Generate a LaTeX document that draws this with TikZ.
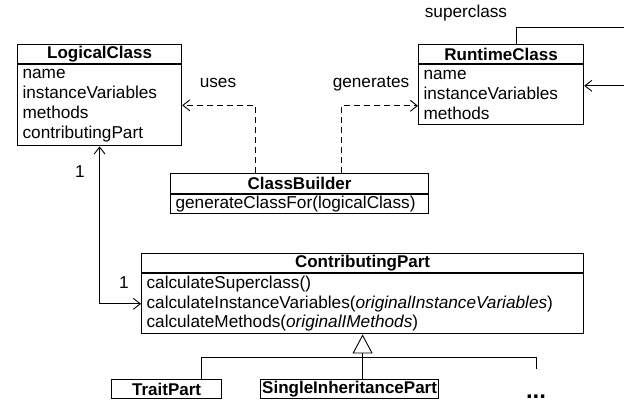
\documentclass[tikz,border=0pt]{standalone}
\usepackage{fontspec}
\setmainfont{Liberation Sans}
\usetikzlibrary{arrows.meta}
\begin{document}
\begin{tikzpicture}[x=1pt,y=-1pt,
  every node/.style={font=\fontsize{17.2}{20}\selectfont, inner sep=0pt},
  hdr/.style={draw, line width=1.2pt, anchor=north west, minimum height=19pt, font=\fontsize{17}{20}\selectfont\bfseries},
  body/.style={draw, line width=1.2pt, anchor=north west, align=left, inner xsep=5pt, inner ysep=0pt},
  assoc/.style={line width=0.9pt},
  dep/.style={line width=0.9pt, dash pattern=on 6pt off 4pt},
  barb/.style={-{Straight Barb[length=7pt,width=11pt,line width=0.9pt]}},
  lbl/.style={font=\fontsize{17.2}{20}\selectfont}
]
\useasboundingbox (0,0) rectangle (624,402);
\clip (0,0) rectangle (624,402);
% LogicalClass
\node[hdr, minimum width=164pt] (lch) at (17,44) {LogicalClass};
\node[body, minimum height=81pt, text width=154pt] (lcb) at (lch.south west) {name\\instanceVariables\\methods\\contributingPart};
% RuntimeClass
\node[hdr, minimum width=165pt] (rch) at (418,44) {RuntimeClass};
\node[body, minimum height=60pt, text width=155pt] (rcb) at (rch.south west) {name\\instanceVariables\\methods};
% ClassBuilder
\node[hdr, minimum width=258pt, minimum height=20pt] (cbh) at (170,173) {ClassBuilder};
\node[body, minimum height=19pt, text width=248pt] (cbb) at (cbh.south west) {generateClassFor(logicalClass)};
% ContributingPart
\node[hdr, minimum width=442pt] (cph) at (141,253) {ContributingPart};
\node[body, minimum height=60pt, text width=432pt, font=\fontsize{17.2}{19.5}\selectfont] (cpb) at (cph.south west) {calculateSuperclass()\\calculateInstanceVariables(\textit{originalInstanceVariables})\\calculateMethods(\textit{originalIMethods})};
% subclasses
\node[hdr, minimum width=110pt] (tp) at (111,379) {TraitPart};
\node[hdr, minimum width=178pt] (sip) at (260,379) {SingleInheritancePart};
\node[anchor=base, font=\fontsize{24}{28}\selectfont\bfseries] (more) at (536,398.5) {...};
\coordinate (moreTop) at (536,369);
\coordinate (offR) at (632,27);
% uses
\draw[dep, barb] ([xshift=-44pt]cbh.north) |- (lcb.east);
\node[lbl] (uses) at (218,83) {uses};
% generates
\draw[dep, barb] ([xshift=42pt]cbh.north) |- ([yshift=-11pt]rcb.west);
\node[lbl] (gen) at (371,84) {generates};
% superclass
\draw[assoc, barb] ([xshift=15.5pt]rch.north) -- ++(0,-17) -- (offR) |- ([yshift=9pt]rcb.east);
\node[lbl] (sup) at (466,13) {superclass};
% association
\draw[assoc, {Straight Barb[length=7pt,width=11pt,line width=0.9pt]}-{Straight Barb[length=7pt,width=11pt,line width=0.9pt]}] (lcb.south) |- (cpb.west);
\node[lbl] (m1) at (80,172) {1};
\node[lbl] (m2) at (124,283) {1};
% inheritance
\draw[assoc, -{Triangle[open,length=19pt,width=20pt,line width=0.9pt]}] (cph.south |- sip.north) -- (cpb.south);
\draw[assoc] ([xshift=35pt]tp.north) -- ++(0,-22) -| (moreTop);
\end{tikzpicture}
\end{document}
